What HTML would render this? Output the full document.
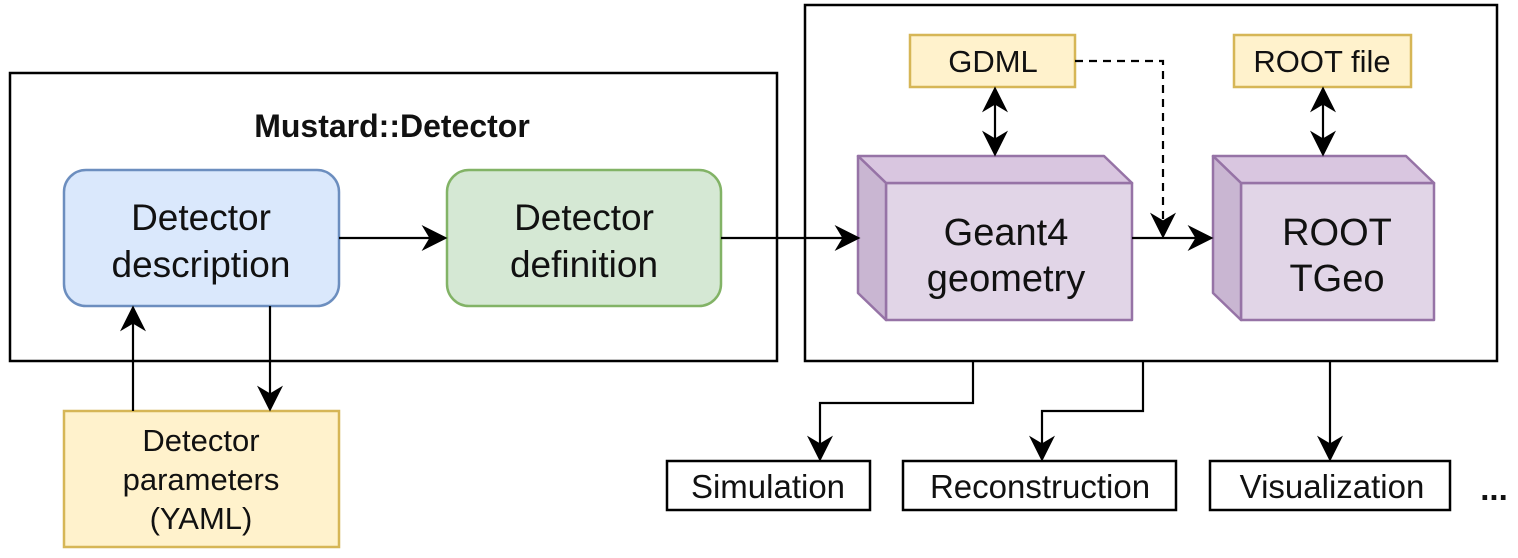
<!DOCTYPE html>
<html><head><meta charset="utf-8"><style>html,body{margin:0;padding:0;background:#fff}svg{display:block}text{font-family:"Liberation Sans",Arial,sans-serif;fill:#111}</style></head>
<body>
<svg width="1518" height="558" viewBox="0 0 1518 558" xmlns="http://www.w3.org/2000/svg">
<defs>
<marker id="b" viewBox="0 0 10 10" refX="9" refY="5" markerWidth="26" markerHeight="26" markerUnits="userSpaceOnUse" orient="auto-start-reverse"><path d="M0,0 L10,5 L0,10 L3,5 Z" fill="#000"/></marker>
</defs>
<g fill="none" stroke="#000" stroke-width="2.5">
<rect x="10" y="73" width="767" height="288"/>
<rect x="805" y="5" width="692" height="356"/>
</g>
<text x="392" y="137" font-size="32" font-weight="bold" text-anchor="middle">Mustard::Detector</text>
<rect x="64" y="170" width="275" height="136" rx="22" fill="#dae8fc" stroke="#6c8ebf" stroke-width="2.5"/>
<text x="201" y="230" font-size="37" text-anchor="middle">Detector</text>
<text x="201" y="277" font-size="37" text-anchor="middle">description</text>
<rect x="447" y="170" width="274" height="136" rx="22" fill="#d5e8d4" stroke="#82b366" stroke-width="2.5"/>
<text x="584" y="230" font-size="37" text-anchor="middle">Detector</text>
<text x="584" y="277" font-size="37" text-anchor="middle">definition</text>
<rect x="64" y="411" width="275" height="136" fill="#fff2cc" stroke="#d6b656" stroke-width="2.5"/>
<text x="201" y="451" font-size="31" text-anchor="middle">Detector</text>
<text x="201" y="490" font-size="31" text-anchor="middle">parameters</text>
<text x="201" y="529" font-size="31" text-anchor="middle">(YAML)</text>
<g stroke="#9673a6" stroke-width="2.5" stroke-linejoin="round">
<rect x="886" y="183" width="246" height="137" fill="#e1d5e7"/>
<polygon points="858,156 1104,156 1132,183 886,183" fill="#d9c6e0"/>
<polygon points="858,156 886,183 886,320 858,293" fill="#c9b6d2"/>
<rect x="1241" y="183" width="193" height="137" fill="#e1d5e7"/>
<polygon points="1213,156 1406,156 1434,183 1241,183" fill="#d9c6e0"/>
<polygon points="1213,156 1241,183 1241,320 1213,293" fill="#c9b6d2"/>
</g>
<text x="1006" y="245" font-size="38" text-anchor="middle">Geant4</text>
<text x="1006" y="291" font-size="38" text-anchor="middle">geometry</text>
<text x="1337" y="245" font-size="38" text-anchor="middle">ROOT</text>
<text x="1337" y="291" font-size="38" text-anchor="middle">TGeo</text>
<rect x="910" y="35" width="165" height="52" fill="#fff2cc" stroke="#d6b656" stroke-width="2.5"/>
<text x="993" y="72" font-size="31" text-anchor="middle">GDML</text>
<rect x="1234" y="35" width="177" height="52" fill="#fff2cc" stroke="#d6b656" stroke-width="2.5"/>
<text x="1322" y="72" font-size="31" text-anchor="middle">ROOT file</text>
<g fill="none" stroke="#000" stroke-width="2.2">
<line x1="339" y1="238" x2="445" y2="238" marker-end="url(#b)"/>
<line x1="721" y1="238" x2="858" y2="238" marker-end="url(#b)"/>
<line x1="1132" y1="238" x2="1211" y2="238" marker-end="url(#b)"/>
<line x1="133" y1="411" x2="133" y2="308" marker-end="url(#b)"/>
<line x1="270" y1="306" x2="270" y2="409" marker-end="url(#b)"/>
<line x1="995" y1="89" x2="995" y2="154" marker-start="url(#b)" marker-end="url(#b)"/>
<line x1="1323" y1="89" x2="1323" y2="154" marker-start="url(#b)" marker-end="url(#b)"/>
<polyline points="1075,61 1163,61 1163,236" stroke-dasharray="8,6" marker-end="url(#b)"/>
<polyline points="973,361 973,403 820,403 820,459" marker-end="url(#b)"/>
<polyline points="1143,361 1143,411 1042,411 1042,459" marker-end="url(#b)"/>
<line x1="1330" y1="361" x2="1330" y2="459" marker-end="url(#b)"/>
</g>
<g fill="#fff" stroke="#000" stroke-width="2.5">
<rect x="667" y="461" width="203" height="49"/>
<rect x="903" y="461" width="273" height="49"/>
<rect x="1210" y="461" width="240" height="49"/>
</g>
<text x="768" y="498" font-size="33" text-anchor="middle">Simulation</text>
<text x="1040" y="498" font-size="33" text-anchor="middle">Reconstruction</text>
<text x="1332" y="498" font-size="33" text-anchor="middle">Visualization</text>
<text x="1494" y="500" font-size="33" font-weight="bold" text-anchor="middle">...</text>
</svg>
</body></html>
